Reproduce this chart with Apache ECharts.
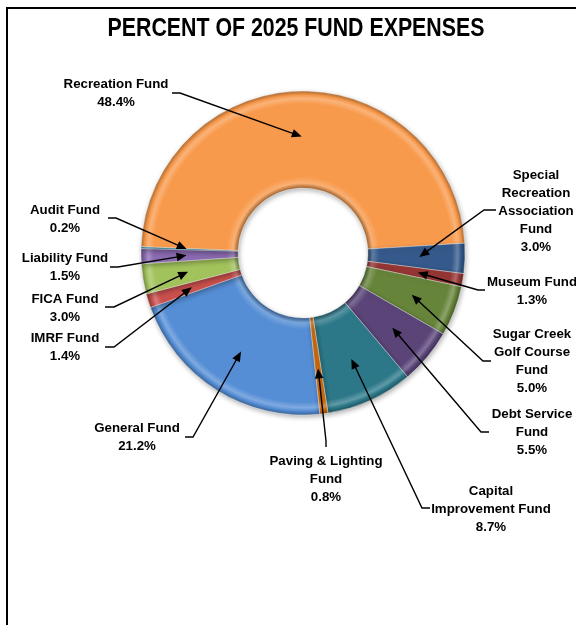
<!DOCTYPE html>
<html>
<head>
<meta charset="utf-8">
<script src="https://cdn.jsdelivr.net/npm/echarts@6/dist/echarts.min.js"></script>
<style>
  html, body { margin: 0; padding: 0; background: #fff; }
  #chart { width: 576px; height: 625px; }
</style>
</head>
<body>
<div id="chart"></div>
<script>
// Fund names (line breaks are part of the label text) and their share of 2025 expenses, in %
const funds = [
  'General Fund', 'IMRF Fund', 'FICA Fund', 'Liability Fund', 'Audit Fund',
  'Recreation Fund', 'Special\nRecreation\nAssociation\nFund', 'Museum Fund',
  'Sugar Creek\nGolf Course\nFund', 'Debt Service\nFund',
  'Capital\nImprovement Fund', 'Paving & Lighting\nFund'
];
const shares = [21.2, 1.4, 3.0, 1.5, 0.2, 48.4, 3.0, 1.3, 5.0, 5.5, 8.7, 0.8];

// Slice colours, one per fund
const sliceColors = [
  '#558ED5', '#C9504D', '#A2C25C', '#8A6AB0', '#4BACC6', '#F89A4C',
  '#34598A', '#963634', '#66843A', '#5A4478', '#2C7889', '#C6680F'
];

// Ring geometry
const CX = 303, CY = 253, R_IN = 65, R_OUT = 162;

// Where each callout sits (centre of the text block)
const labelCenters = [
  [137, 437], [65, 347], [65, 308], [65, 267], [65, 219], [116, 93],
  [536, 211], [532, 291], [532, 361], [532, 432], [491, 509], [326, 479]
];
// Leader line start and elbow beside each callout; the arrow then runs to its slice
const leaderPaths = [
  [[185, 437], [193, 437]], [[105, 347], [114, 347]], [[105, 307], [114, 307]],
  [[110, 267], [118, 267]], [[108, 218], [116, 218]], [[172, 93], [180, 93]],
  [[496, 210], [484, 210]], [[485, 290], [478, 290]], [[491, 361], [483, 361]],
  [[489, 432], [481, 432]], [[430, 508], [422, 508]], [[326, 447], [326, 441]]
];

function mix(hex, target, t) {
  const n = parseInt(hex.slice(1), 16);
  const c = [(n >> 16) & 255, (n >> 8) & 255, n & 255];
  const out = c.map(v => Math.round(v + (target - v) * t));
  return 'rgb(' + out.join(',') + ')';
}

// Radial shading that gives each ring slice a bevelled edge
function bevel(hex) {
  const inner = R_IN / R_OUT;
  return {
    type: 'radial', x: CX, y: CY, r: R_OUT, global: true,
    colorStops: [
      { offset: inner, color: mix(hex, 0, 0.35) },
      { offset: inner + 0.03, color: mix(hex, 255, 0.22) },
      { offset: inner + 0.07, color: hex },
      { offset: 0.92, color: hex },
      { offset: 0.955, color: mix(hex, 255, 0.25) },
      { offset: 0.975, color: hex },
      { offset: 1, color: mix(hex, 0, 0.3) }
    ]
  };
}

const labelFont = '"Liberation Sans", Arial, sans-serif';

const chart = echarts.init(document.getElementById('chart'), null, { renderer: 'canvas' });

const option = {
  backgroundColor: '#ffffff',
  animation: false,
  series: [{
    type: 'pie',
    center: [CX, CY],
    radius: [R_IN, R_OUT],
    startAngle: 276,
    clockwise: true,
    avoidLabelOverlap: false,
    emphasis: { disabled: true },
    itemStyle: {
      borderColor: 'rgba(255,255,255,0.45)',
      borderWidth: 0.8,
      shadowBlur: 5,
      shadowColor: 'rgba(0,0,0,0.3)',
      shadowOffsetX: 1,
      shadowOffsetY: 2
    },
    label: {
      show: true,
      position: 'outside',
      formatter: p => p.name + '\n' + p.value.toFixed(1) + '%',
      fontFamily: labelFont,
      fontWeight: 'bold',
      fontSize: 13.3,
      lineHeight: 18,
      color: '#000',
      align: 'center'
    },
    labelLine: { show: false },
    labelLayout: params => {
      const c = labelCenters[params.dataIndex];
      return { x: c[0], y: c[1], align: 'center', verticalAlign: 'middle', hideOverlap: false };
    },
    data: funds.map((name, i) => ({
      name: name,
      value: shares[i],
      itemStyle: { color: bevel(sliceColors[i]) }
    }))
  }]
};

chart.setOption(option);

// Arrows from each callout to the middle of its slice, placed from the pie's own layout
const pieData = chart.getModel().getSeriesByIndex(0).getData();
const graphics = [
  {
    type: 'polyline', silent: true,
    shape: { points: [[7, 625], [7, 8], [576, 8]] },
    style: { stroke: '#000', lineWidth: 2, fill: null }
  },
  {
    type: 'text', x: 296, y: 29, scaleX: 0.82, silent: true,
    style: {
      text: 'PERCENT OF 2025 FUND EXPENSES',
      font: 'bold 26px ' + labelFont,
      fill: '#000',
      align: 'center', verticalAlign: 'middle',
      textAlign: 'center', textVerticalAlign: 'middle'
    }
  }
];

funds.forEach((f, i) => {
  const L = pieData.getItemLayout(i);
  const mid = (L.startAngle + L.endAngle) / 2;
  const rr = L.r0 + (L.r - L.r0) * 0.53;
  const tip = [L.cx + rr * Math.cos(mid), L.cy + rr * Math.sin(mid)];
  const path = leaderPaths[i];
  const from = path[path.length - 1];
  let ux = tip[0] - from[0], uy = tip[1] - from[1];
  const len = Math.hypot(ux, uy);
  ux /= len; uy /= len;
  const headLen = 10, headHalf = 4.3;
  const base = [tip[0] - ux * headLen, tip[1] - uy * headLen];
  graphics.push({
    type: 'polyline', silent: true, z: 10,
    shape: { points: path.concat([[tip[0] - ux * 6, tip[1] - uy * 6]]) },
    style: { stroke: '#000', lineWidth: 1.4, fill: null }
  });
  graphics.push({
    type: 'polygon', silent: true, z: 10,
    shape: { points: [tip, [base[0] - uy * headHalf, base[1] + ux * headHalf], [base[0] + uy * headHalf, base[1] - ux * headHalf]] },
    style: { fill: '#000' }
  });
});

chart.setOption({ graphic: graphics });
</script>
</body>
</html>
